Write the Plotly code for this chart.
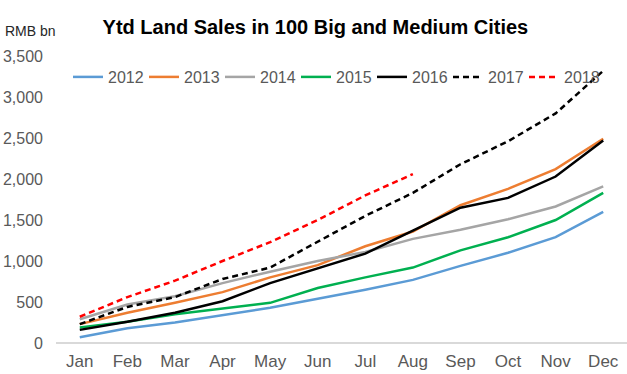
import plotly.graph_objects as go

months = ["Jan", "Feb", "Mar", "Apr", "May", "Jun", "Jul", "Aug", "Sep", "Oct", "Nov", "Dec"]

# Year-to-date land sales, RMB bn
sales_2012 = [70, 180, 250, 340, 430, 540, 650, 770, 940, 1100, 1290, 1600]
sales_2013 = [230, 370, 490, 620, 800, 950, 1180, 1360, 1680, 1880, 2120, 2490]
sales_2014 = [290, 470, 570, 730, 870, 1000, 1110, 1270, 1380, 1510, 1665, 1910]
sales_2015 = [190, 260, 350, 420, 490, 670, 800, 920, 1130, 1290, 1500, 1830]
sales_2016 = [160, 260, 370, 510, 730, 910, 1090, 1370, 1650, 1770, 2030, 2470]
sales_2017 = [230, 440, 560, 780, 920, 1230, 1550, 1830, 2180, 2460, 2800, 3320]
sales_2018 = [320, 560, 760, 1000, 1230, 1500, 1800, 2060]

y_ticks = [0, 500, 1000, 1500, 2000, 2500, 3000, 3500]

series = [
    ("2012", sales_2012, "#5B9BD5", "solid"),
    ("2013", sales_2013, "#ED7D31", "solid"),
    ("2014", sales_2014, "#A5A5A5", "solid"),
    ("2015", sales_2015, "#00B050", "solid"),
    ("2016", sales_2016, "#000000", "solid"),
    ("2017", sales_2017, "#000000", "6px,4px"),
    ("2018", sales_2018, "#FF0000", "6px,4px"),
]

W, H = 627, 374
ML, MR, MT, MB = 56, 0, 56, 31
PW, PH = W - ML - MR, H - MT - MB

fig = go.Figure()
for name, vals, color, dash in series:
    fig.add_trace(go.Scatter(
        x=months[:len(vals)], y=vals, name=name, mode="lines",
        line=dict(color=color, width=2.5, dash=dash),
    ))

fig.update_layout(
    width=W, height=H,
    margin=dict(l=ML, r=MR, t=MT, b=MB, autoexpand=False),
    paper_bgcolor="white", plot_bgcolor="white",
    font=dict(family="Liberation Sans, Arial, sans-serif", color="#595959", size=16),
    title=dict(
        text="<b>Ytd Land Sales in 100 Big and Medium Cities</b>",
        x=0.503, xanchor="center", xref="container",
        y=1 - 27 / H, yanchor="middle", yref="container",
        font=dict(size=20, color="#000000"),
    ),
    legend=dict(
        orientation="h", xref="paper", yref="paper",
        x=(68 - ML) / PW, xanchor="left", y=1 - (77 - MT) / PH, yanchor="middle",
        entrywidth=31, entrywidthmode="pixels",
        bgcolor="rgba(0,0,0,0)", font=dict(size=16, color="#595959"),
        itemwidth=30, tracegroupgap=0,
    ),
    xaxis=dict(
        type="category", categoryorder="array", categoryarray=months,
        range=[-0.5, 11.5], showgrid=False, showline=False, ticks="",
        tickfont=dict(size=17, color="#595959"), zeroline=False,
        ticklabelstandoff=6,
    ),
    yaxis=dict(
        range=[0, 3500], tickvals=y_ticks, tickformat=",", showgrid=False,
        zeroline=True, zerolinecolor="#D9D9D9", zerolinewidth=1.5,
        showline=False, ticks="", tickfont=dict(size=16, color="#595959"),
        ticklabelstandoff=12,
    ),
)

# unit label above the value axis
fig.add_annotation(
    text="RMB bn", xref="paper", yref="paper",
    x=(3 - ML) / PW, y=1 + (MT - 31) / PH, xanchor="left", yanchor="middle",
    showarrow=False, font=dict(size=14, color="#262626"),
)

fig.write_html("out.html")
